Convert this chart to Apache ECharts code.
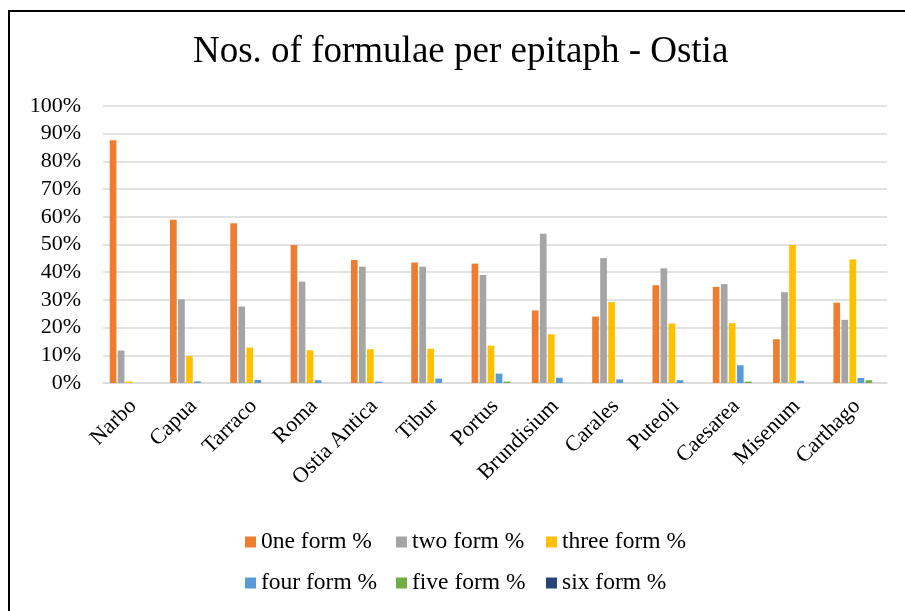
<!DOCTYPE html>
<html>
<head>
<meta charset="utf-8">
<script src="https://cdn.jsdelivr.net/npm/echarts@6/dist/echarts.min.js"></script>
<style>
  html, body { margin: 0; padding: 0; background: #fff; }
  #chart { width: 905px; height: 611px; }
</style>
</head>
<body>
<div id="chart"></div>
<script>
// Sites and share of epitaphs by number of formulae (fractions of 1)
const sites = ['Narbo', 'Capua', 'Tarraco', 'Roma', 'Ostia Antica', 'Tibur', 'Portus',
  'Brundisium', 'Carales', 'Puteoli', 'Caesarea', 'Misenum', 'Carthago'];

const oneForm   = [0.876, 0.589, 0.577, 0.498, 0.444, 0.435, 0.431, 0.262, 0.240, 0.353, 0.347, 0.158, 0.290];
const twoForm   = [0.117, 0.302, 0.276, 0.366, 0.420, 0.420, 0.390, 0.539, 0.451, 0.414, 0.357, 0.328, 0.228];
const threeForm = [0.005, 0.097, 0.128, 0.118, 0.122, 0.124, 0.135, 0.176, 0.292, 0.215, 0.216, 0.498, 0.446];
const fourForm  = [0.000, 0.006, 0.011, 0.010, 0.005, 0.016, 0.034, 0.019, 0.013, 0.010, 0.064, 0.008, 0.018];
const fiveForm  = [0.000, 0.000, 0.000, 0.000, 0.000, 0.000, 0.005, 0.000, 0.000, 0.000, 0.005, 0.000, 0.010];
const sixForm   = [0, 0, 0, 0, 0, 0, 0, 0, 0, 0, 0, 0, 0];

const seriesNames = ['0ne form %', 'two form %', 'three form %', 'four form %', 'five form %', 'six form %'];
const seriesData = [oneForm, twoForm, threeForm, fourForm, fiveForm, sixForm];
const colors = ['#ED7D31', '#A5A5A5', '#FFC000', '#5B9BD5', '#70AD47', '#264478'];

const yTicks = [0, 0.1, 0.2, 0.3, 0.4, 0.5, 0.6, 0.7, 0.8, 0.9, 1.0];

const serif = '"Liberation Serif", "Times New Roman", serif';

// Legend laid out as two rows of three entries
const legendSlots = [
  { left: 245, top: 536 }, { left: 396, top: 536 }, { left: 546, top: 536 },
  { left: 245, top: 577 }, { left: 396, top: 577 }, { left: 546, top: 577 }
];

const chart = echarts.init(document.getElementById('chart'), null, { renderer: 'canvas' });

chart.setOption({
  animation: false,
  backgroundColor: '#fff',
  color: colors,
  title: {
    text: 'Nos. of formulae per epitaph - Ostia',
    left: 193,
    top: 34,
    padding: 0,
    textStyle: { fontFamily: serif, fontSize: 37, fontWeight: 'normal', color: '#000' }
  },
  graphic: [{
    type: 'rect',
    shape: { x: 9, y: 11, width: 1000, height: 1000 },
    style: { fill: 'none', stroke: '#000', lineWidth: 2 },
    silent: true
  }],
  legend: legendSlots.map((pos, i) => ({
    data: [seriesNames[i]],
    left: pos.left,
    top: pos.top - 6,
    padding: 0,
    itemWidth: 11,
    itemHeight: 11,
    icon: 'rect',
    textStyle: { fontFamily: serif, fontSize: 23.5, color: '#000' },
    selectedMode: false
  })),
  grid: { left: 103, right: 18, top: 106, bottom: 228, containLabel: false },
  xAxis: {
    type: 'category',
    data: sites,
    axisTick: { show: false },
    axisLine: { lineStyle: { color: '#d9d9d9', width: 1.5 } },
    axisLabel: {
      rotate: 45,
      interval: 0,
      margin: 20,
      fontFamily: serif,
      fontSize: 22,
      color: '#000'
    }
  },
  yAxis: {
    type: 'value',
    min: yTicks[0],
    max: yTicks[yTicks.length - 1],
    interval: 0.1,
    axisLine: { show: false },
    axisTick: { show: false },
    splitLine: { lineStyle: { color: '#d9d9d9', width: 1.5 } },
    axisLabel: {
      margin: 22,
      fontFamily: serif,
      fontSize: 22,
      color: '#000',
      formatter: v => Math.round(v * 100) + '%'
    }
  },
  series: seriesData.map((d, i) => ({
    name: seriesNames[i],
    type: 'bar',
    data: d,
    barWidth: 6.7,
    barGap: '20%',
    itemStyle: { color: colors[i] }
  }))
});
</script>
</body>
</html>
